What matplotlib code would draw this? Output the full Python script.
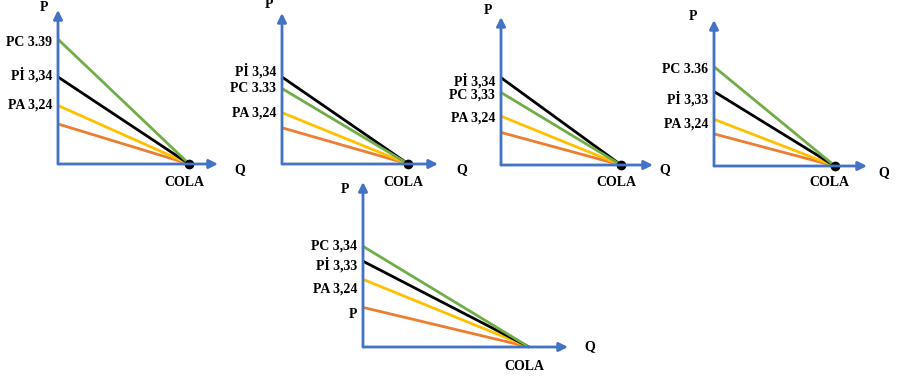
import matplotlib.pyplot as plt

plt.rcParams['font.family'] = ['Liberation Serif', 'DejaVu Serif']
plt.rcParams['font.weight'] = 'bold'

# demand lines for COLA, heights where each line meets the P axis (share of axis length)
green_start = [0.81, 0.50, 0.49, 0.68, 0.61]
black_start = [0.565, 0.576, 0.59, 0.51, 0.52]
yellow_start = [0.38, 0.34, 0.33, 0.32, 0.41]
orange_start = [0.26, 0.24, 0.22, 0.22, 0.24]
q_end = [0.82, 0.81, 0.79, 0.79, 0.81]

# axis labels per panel
pc_labels = ['PC 3.39', 'PC 3.33', 'PC 3,33', 'PC 3.36', 'PC 3,34']
pi_labels = ['Pİ 3,34', 'Pİ 3,34', 'Pİ 3,34', 'Pİ 3,33', 'Pİ 3,33']
pa_labels = ['PA 3,24', 'PA 3,24', 'PA 3,24', 'PA 3,24', 'PA 3,24']
show_dot = [True, True, True, True, False]

# layout (pixels): origin x, origin y, x axis length, y axis length
W, H = 897, 380
boxes = [(58, 164, 160, 154), (282, 164, 156, 151), (501, 165, 152, 148),
         (714, 166, 153, 146), (363, 347, 205, 165)]
pc_pos = [0.79, 0.50, 0.47, 0.66, 0.61]
pi_pos = [0.58, 0.62, 0.57, 0.46, 0.50]
pa_pos = [0.38, 0.34, 0.32, 0.29, 0.35]
p_off = [(-14, 3), (-13, 8), (-13, 7), (-21, 4), (-18, -8)]
q_off = [(22, -6), (24, -6), (12, -5), (17, -7), (22, 0)]
cola_off = [-18, -18, -18, -17, -20]

blue = '#4472C4'
green = '#70AD47'
yellow = '#FFC000'
orange = '#ED7D31'

fig = plt.figure(figsize=(W / 100, H / 100), dpi=100)
fs = 10

for i, (x0, y0, xl, yl) in enumerate(boxes):
    ax = fig.add_axes([x0 / W, (H - y0) / H, xl / W, yl / H])
    ax.set_xlim(0, 1)
    ax.set_ylim(0, 1)
    ax.axis('off')

    arrow = dict(arrowstyle='-|>', color=blue, lw=2, mutation_scale=13, shrinkA=0, shrinkB=0)
    ax.annotate('', xy=(1, 0), xytext=(0, 0), arrowprops=arrow)
    ax.annotate('', xy=(0, 1), xytext=(0, 0), arrowprops=arrow)

    for start, c in [(orange_start[i], orange), (yellow_start[i], yellow),
                     (black_start[i], 'black'), (green_start[i], green)]:
        ax.plot([0, q_end[i]], [start, 0], color=c, lw=2, clip_on=False,
                solid_capstyle='butt')
    if show_dot[i]:
        ax.plot(q_end[i], 0, 'o', color='black', ms=6, clip_on=False)

    for txt, yp in [(pc_labels[i], pc_pos[i]), (pi_labels[i], pi_pos[i]),
                    (pa_labels[i], pa_pos[i])]:
        ax.annotate(txt, xy=(0, yp), xytext=(-6, 0), textcoords='offset pixels',
                    ha='right', va='center', fontsize=fs, fontweight='bold')
    if i == 4:
        ax.annotate('P', xy=(0, orange_start[i]), xytext=(-6, -7), textcoords='offset pixels',
                    ha='right', va='center', fontsize=fs, fontweight='bold')

    ax.annotate('P', xy=(0, 1), xytext=p_off[i], textcoords='offset pixels',
                ha='center', va='center', fontsize=fs, fontweight='bold')
    ax.annotate('Q', xy=(1, 0), xytext=q_off[i], textcoords='offset pixels',
                ha='center', va='center', fontsize=fs, fontweight='bold')
    ax.annotate('COLA', xy=(q_end[i], 0), xytext=(-5, cola_off[i]), textcoords='offset pixels',
                ha='center', va='center', fontsize=fs, fontweight='bold')

fig.savefig('out.png', dpi=100)
